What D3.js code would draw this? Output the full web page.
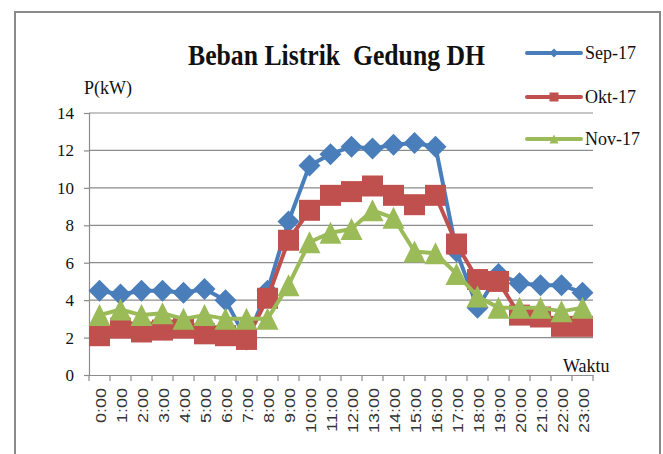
<!DOCTYPE html>
<html>
<head>
<meta charset="utf-8">
<script src="https://cdn.jsdelivr.net/npm/d3@7"></script>
<style>
  body { margin: 0; background: #fff; }
</style>
</head>
<body>
<div id="chart"></div>
<script>
// data
let hours = ['0:00', '1:00', '2:00', '3:00', '4:00', '5:00', '6:00', '7:00', '8:00', '9:00', '10:00', '11:00',
    '12:00', '13:00', '14:00', '15:00', '16:00', '17:00', '18:00', '19:00', '20:00', '21:00', '22:00', '23:00'];
let sep17 = [4.5, 4.3, 4.5, 4.5, 4.4, 4.6, 4.0, 1.9, 4.5, 8.2, 11.2, 11.8, 12.2, 12.1, 12.3, 12.4, 12.2, 6.6, 3.6, 5.4, 4.9, 4.8, 4.8, 4.4];
let okt17 = [2.1, 2.5, 2.3, 2.4, 2.5, 2.2, 2.1, 1.9, 4.1, 7.2, 8.8, 9.6, 9.8, 10.1, 9.6, 9.1, 9.6, 7.0, 5.1, 5.0, 3.2, 3.1, 2.6, 2.6];
let nov17 = [3.2, 3.5, 3.2, 3.3, 3.0, 3.2, 3.0, 3.0, 3.0, 4.8, 7.1, 7.6, 7.8, 8.8, 8.4, 6.6, 6.5, 5.4, 4.2, 3.6, 3.6, 3.6, 3.4, 3.6];
let yTicks = [0, 2, 4, 6, 8, 10, 12, 14];

let series = [
    {name: 'Sep-17', values: sep17, color: '#4a7ebb', marker: 'diamond'},
    {name: 'Okt-17', values: okt17, color: '#c0504d', marker: 'square'},
    {name: 'Nov-17', values: nov17, color: '#9bbb59', marker: 'triangle'}
];

let width = 663, height = 454;
let plot = {left: 89, right: 593, top: 113, bottom: 375};

let svg = d3.select('#chart')
    .append('svg')
    .attr('width', width)
    .attr('height', height);

// outer frame (bottom edge is cut off in the picture)
svg.append('rect')
    .attr('x', 15).attr('y', 12)
    .attr('width', 645).attr('height', 470)
    .attr('fill', 'none')
    .attr('stroke', '#8a8a8a')
    .attr('stroke-width', 2);

let x = d3.scaleBand()
    .domain(hours)
    .range([plot.left, plot.right]);

let y = d3.scaleLinear()
    .domain([0, 14])
    .range([plot.bottom, plot.top]);

// gridlines
svg.append('g')
    .selectAll('line')
    .data(yTicks.filter(t => t > 0))
    .enter()
    .append('line')
    .attr('x1', plot.left).attr('x2', plot.right)
    .attr('y1', d => y(d)).attr('y2', d => y(d))
    .attr('stroke', '#8c8c8c')
    .attr('stroke-width', 1.2);

// y axis
let yAxis = svg.append('g')
    .attr('transform', 'translate(' + plot.left + ',0)')
    .call(d3.axisLeft(y).tickValues(yTicks).tickSize(5).tickPadding(10));
yAxis.selectAll('path, line').attr('stroke', '#8c8c8c').attr('stroke-width', 1.2);
yAxis.selectAll('text')
    .style('font-family', '"Liberation Serif", "Times New Roman", serif')
    .style('font-size', '17px')
    .attr('fill', '#111');

// x axis
let xAxis = svg.append('g')
    .attr('transform', 'translate(0,' + plot.bottom + ')')
    .call(d3.axisBottom(x).tickSize(0).tickFormat(''));
xAxis.select('path').attr('stroke', '#8c8c8c').attr('stroke-width', 1.2);

// tick marks between categories
svg.append('g')
    .selectAll('line')
    .data(d3.range(hours.length + 1))
    .enter()
    .append('line')
    .attr('x1', i => plot.left + i * x.step())
    .attr('x2', i => plot.left + i * x.step())
    .attr('y1', plot.bottom)
    .attr('y2', plot.bottom + 6)
    .attr('stroke', '#8c8c8c')
    .attr('stroke-width', 1.2);

// rotated hour labels
svg.append('g')
    .selectAll('text')
    .data(hours)
    .enter()
    .append('text')
    .attr('transform', d => 'translate(' + (x(d) + x.bandwidth() / 2 + 1) + ',' + 388 + ') rotate(-90) scale(1,0.8)')
    .attr('text-anchor', 'end')
    .attr('dominant-baseline', 'central')
    .style('font-family', '"Liberation Sans", Arial, sans-serif')
    .style('font-size', '18px')
    .attr('fill', '#333')
    .text(d => d);

// lines and markers
let line = d3.line()
    .x((d, i) => x(hours[i]) + x.bandwidth() / 2)
    .y(d => y(d));

let markerPath = (type, s) => {
    if (type === 'diamond') {
        return 'M0,' + (-s) + 'L' + s + ',0L0,' + s + 'L' + (-s) + ',0Z';
    } else if (type === 'square') {
        return 'M' + (-s) + ',' + (-s) + 'H' + s + 'V' + s + 'H' + (-s) + 'Z';
    }
    return 'M0,' + (-s) + 'L' + s + ',' + s + 'L' + (-s) + ',' + s + 'Z';
};
let markerSize = {diamond: 11, square: 10.5, triangle: 11};

series.forEach((s) => {
    let g = svg.append('g');
    g.append('path')
        .datum(s.values)
        .attr('d', line)
        .attr('fill', 'none')
        .attr('stroke', s.color)
        .attr('stroke-width', 4)
        .attr('stroke-linejoin', 'round');
    g.selectAll('path.mark')
        .data(s.values)
        .enter()
        .append('path')
        .attr('class', 'mark')
        .attr('transform', (d, i) => 'translate(' + (x(hours[i]) + x.bandwidth() / 2) + ',' + y(d) + ')')
        .attr('d', markerPath(s.marker, markerSize[s.marker]))
        .attr('fill', s.color);
});

// title (two spaces kept as in the original)
svg.append('text')
    .attr('x', 188)
    .attr('y', 65)
    .attr('textLength', 297)
    .attr('lengthAdjust', 'spacingAndGlyphs')
    .style('white-space', 'pre')
    .style('font-family', '"Liberation Serif", "Times New Roman", serif')
    .style('font-size', '29px')
    .style('font-weight', 'bold')
    .attr('fill', '#111')
    .text('Beban Listrik  Gedung DH');

// axis titles
svg.append('text')
    .attr('x', 84).attr('y', 94)
    .style('font-family', '"Liberation Serif", "Times New Roman", serif')
    .style('font-size', '18px')
    .attr('fill', '#111')
    .text('P(kW)');

svg.append('text')
    .attr('x', 563).attr('y', 372)
    .style('font-family', '"Liberation Serif", "Times New Roman", serif')
    .style('font-size', '18px')
    .attr('fill', '#111')
    .text('Waktu');

// legend
let legendY = [53, 97, 139];
let legend = svg.append('g')
    .selectAll('g')
    .data(series)
    .enter()
    .append('g')
    .attr('transform', (d, i) => 'translate(527,' + legendY[i] + ')');

legend.append('line')
    .attr('x1', 0).attr('x2', 54)
    .attr('stroke', d => d.color)
    .attr('stroke-width', 4)
    .attr('stroke-linecap', 'round');
legend.append('path')
    .attr('transform', 'translate(27,0)')
    .attr('d', d => markerPath(d.marker, 4.5))
    .attr('fill', d => d.color);
legend.append('text')
    .attr('x', 58)
    .attr('y', 0)
    .attr('dominant-baseline', 'central')
    .style('font-family', '"Liberation Serif", "Times New Roman", serif')
    .style('font-size', '18px')
    .attr('fill', '#111')
    .text(d => d.name);
</script>
</body>
</html>
